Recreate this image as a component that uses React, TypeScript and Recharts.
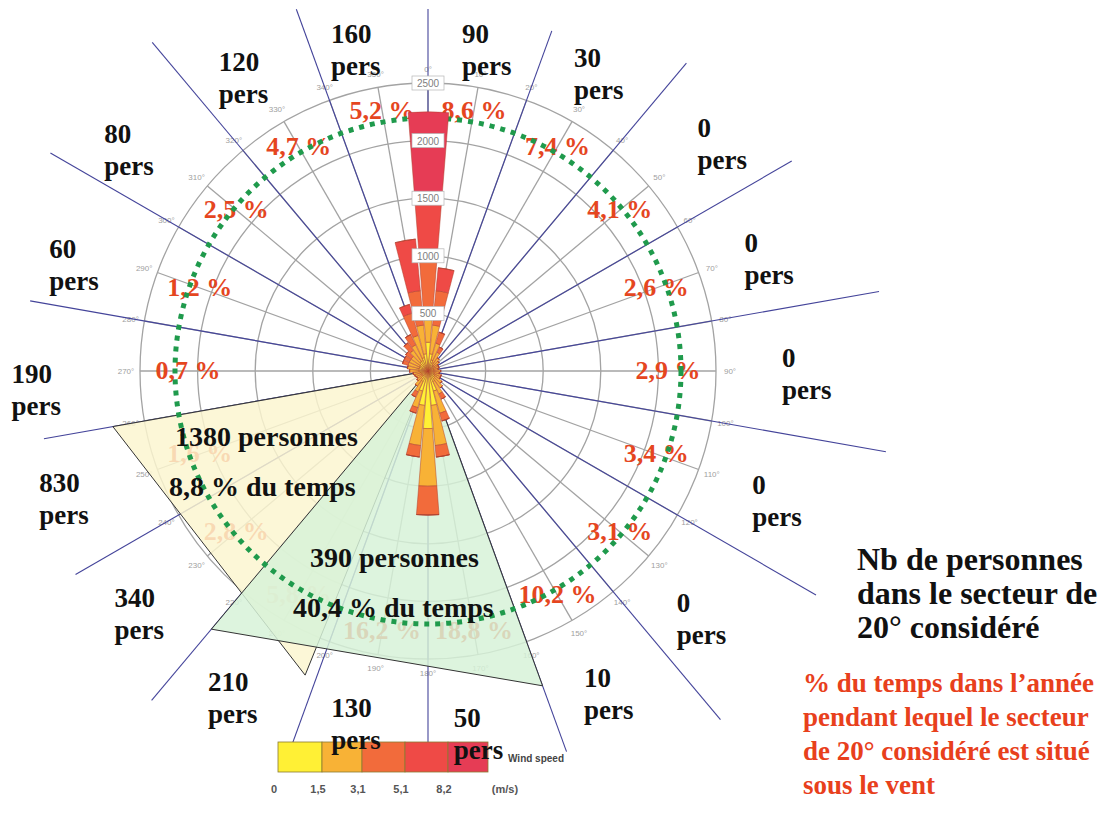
import React from 'react';
import { RadialBarChart, RadialBar, PolarGrid, PolarAngleAxis, PolarRadiusAxis, Customized } from 'recharts';

// wind rose bins, degrees clockwise from north
const directions = [0, 10, 20, 30, 40, 50, 60, 70, 80, 90, 100, 110, 120, 130, 140, 150, 160, 170,
  180, 190, 200, 210, 220, 230, 240, 250, 260, 270, 280, 290, 300, 310, 320, 330, 340, 350];

// counts per speed class
const speed0to15 = [250, 150, 100, 80, 60, 60, 50, 50, 50, 50, 50, 60, 60, 70, 80, 100, 180, 300,
  500, 300, 180, 100, 80, 60, 60, 60, 70, 80, 80, 80, 80, 80, 100, 100, 120, 150];
const speed15to31 = [250, 250, 150, 100, 80, 60, 50, 50, 40, 60, 50, 60, 60, 80, 100, 120, 200, 350,
  500, 350, 150, 100, 80, 60, 50, 60, 60, 80, 100, 100, 100, 100, 120, 150, 200, 250];
const speed31to51 = [450, 300, 100, 50, 0, 0, 0, 0, 0, 0, 0, 0, 0, 0, 0, 50, 70, 100,
  250, 100, 50, 50, 0, 0, 0, 0, 0, 0, 0, 50, 50, 60, 80, 100, 200, 300];
const speed51to82 = [550, 200, 0, 0, 0, 0, 0, 0, 0, 0, 0, 0, 0, 0, 0, 0, 0, 0,
  0, 0, 0, 0, 0, 0, 0, 0, 0, 0, 0, 0, 0, 0, 0, 0, 80, 450];
const speedAbove82 = [750, 0, 0, 0, 0, 0, 0, 0, 0, 0, 0, 0, 0, 0, 0, 0, 0, 0,
  0, 0, 0, 0, 0, 0, 0, 0, 0, 0, 0, 0, 0, 0, 0, 0, 0, 0];

const speedKeys = ['s1', 's2', 's3', 's4', 's5'];
const speedColors = ['#fff035', '#f8b236', '#f26b3b', '#ef4a46', '#e63c55'];
const speedStops = ['0', '1,5', '3,1', '5,1', '8,2'];

const radiusTicks = [500, 1000, 1500, 2000, 2500];

// 20 degree sectors (centre angles)
const sectorCenters = [10, 30, 50, 70, 90, 110, 130, 150, 170, 190, 210, 230, 250, 270, 290, 310, 330, 350];
const personnes = [90, 30, 0, 0, 0, 0, 0, 10, 50, 130, 210, 340, 830, 190, 60, 80, 120, 160];
const tempsPct = [8.6, 7.4, 4.1, 2.6, 2.9, 3.4, 3.1, 10.2, 18.8, 16.2, 5.8, 2.8, 1.6, 0.7, 1.2, 2.5, 4.7, 5.2];
const sectorBounds = [0, 20, 40, 60, 80, 100, 120, 140, 160, 180, 200, 220, 240, 260, 280, 300, 320, 340];

const roseData = directions.map((d, i) => ({
  dir: `${d}°`,
  s1: speed0to15[i],
  s2: speed15to31[i],
  s3: speed31to51[i],
  s4: speed51to82[i],
  s5: speedAbove82[i],
}));

// layout
const CX = 428;
const CY = 371;
const OUTER = 288;
const RMAX = 2500;
const persRadius = [326, 342, 372, 360, 380, 374, 371, 372, 368, 361, 381, 377, 385, 391, 368, 370, 345, 328];
const persShift = [0.6, 0.2, 2.6, 2, 0.6, 0.5, 2.2, 0.7, 1.9, 1.3, 0.6, -0.3, 0.4, -2.9, -3.4, -3.6, -2.1, -2.5];
const boundLength = [362, 362, 402, 420, 458, 465, 448, 455, 405, 380, 421, 430, 407, 390, 404, 436, 429, 385];
const legendX = [278, 322, 362, 405, 448, 488];

const serif = '"Liberation Serif", "Times New Roman", serif';
const sans = '"Liberation Sans", Arial, sans-serif';

const polar = (deg: number, r: number) => ({
  x: CX + r * Math.sin((deg * Math.PI) / 180),
  y: CY - r * Math.cos((deg * Math.PI) / 180),
});

const RadiusTick = (props: any) => {
  const { x, y, payload } = props;
  return (
    <g>
      <rect x={x - 16} y={y - 7} width={32} height={14} fill="#fff" stroke="#b5b5b5" strokeWidth={0.7} />
      <text x={x} y={y + 4} textAnchor="middle" fontSize={10} fill="#808080" fontFamily={sans}>{payload.value}</text>
    </g>
  );
};

const tri = (a1: number, r1: number, a2: number, r2: number) => {
  const p = polar(a1, r1);
  const q = polar(a2, r2);
  return `${CX},${CY} ${p.x},${p.y} ${q.x},${q.y}`;
};

const Annotations = () => (
  <g>
    {directions.map((d) => {
      const p = polar(d, 302);
      return (
        <text key={'deg' + d} x={p.x} y={p.y + 3} textAnchor="middle" fontSize={8} fill="#a0a0a0" fontFamily={sans}>{d}°</text>
      );
    })}
    {sectorCenters.map((a, i) => {
      const c = Math.cos((a * Math.PI) / 180);
      const p = polar(a, 240 + 25 * c * c);
      return (
        <text key={'pct' + a} x={p.x} y={p.y + 8} textAnchor="middle" fontSize={26} fontWeight="bold" fill="#e5461f" fontFamily={serif}>
          {String(tempsPct[i]).replace('.', ',')} %
        </text>
      );
    })}
    {sectorBounds.map((a, i) => {
      const p = polar(a, boundLength[i]);
      return <line key={'b' + a} x1={CX} y1={CY} x2={p.x} y2={p.y} stroke="#44449a" strokeWidth={1.1} />;
    })}
    <polygon points={tri(260, 320, 202, 328)} fill="#fbf5cf" fillOpacity={0.84} stroke="#333" strokeWidth={1} />
    <polygon points={tri(220, 337, 160, 335)} fill="#d6f2d8" fillOpacity={0.84} stroke="#333" strokeWidth={1} />
    <circle cx={CX} cy={CY} r={253} fill="none" stroke="#1f9a4c" strokeWidth={5} strokeDasharray="5 6" />
    {speedColors.map((c, i) => (
      <rect key={'leg' + i} x={legendX[i]} y={742} width={legendX[i + 1] - legendX[i]} height={30} fill={c} stroke="#8a7a30" strokeWidth={0.8} />
    ))}
    {speedStops.map((s, i) => (
      <text key={'stop' + s} x={legendX[i] - 4} y={793} textAnchor="middle" fontSize={11} fontWeight="bold" fill="#555" fontFamily={sans}>{s}</text>
    ))}
    <text x={505} y={793} textAnchor="middle" fontSize={11} fontWeight="bold" fill="#555" fontFamily={sans}>(m/s)</text>
    <text x={508} y={762} fontSize={10} fontWeight="bold" fill="#444" fontFamily={sans}>Wind speed</text>
    {sectorCenters.map((a, i) => {
      const p = polar(a + persShift[i], persRadius[i]);
      return (
        <text key={'pers' + a} x={p.x - 26} y={p.y - 8} fontSize={27} fontWeight="bold" fill="#111" fontFamily={serif}>
          <tspan x={p.x - 26}>{personnes[i]}</tspan>
          <tspan x={p.x - 26} dy={32}>pers</tspan>
        </text>
      );
    })}
    <g fontFamily={serif} fontWeight="bold" fontSize={28} fill="#111">
      <text x={175} y={446}>1380 personnes</text>
      <text x={169} y={496}>8,8 % du temps</text>
      <text x={310} y={567}>390 personnes</text>
      <text x={293} y={617}>40,4 % du temps</text>
    </g>
    <g fontFamily={serif} fontWeight="bold" fontSize={32} fill="#111">
      <text x={857} y={570}>Nb de personnes</text>
      <text x={857} y={604}>dans le secteur de</text>
      <text x={857} y={638}>20° considéré</text>
    </g>
    <g fontFamily={serif} fontWeight="bold" fontSize={27} fill="#e8401c">
      <text x={803} y={692}>% du temps dans l’année</text>
      <text x={803} y={726}>pendant lequel le secteur</text>
      <text x={803} y={760}>de 20° considéré est situé</text>
      <text x={803} y={794}>sous le vent</text>
    </g>
  </g>
);

export default function App() {
  return (
    <div style={{ position: 'absolute', left: 0, top: 0, width: 1107, height: 820, background: '#fff' }}>
      <RadialBarChart
        width={1107}
        height={820}
        data={roseData}
        cx={CX}
        cy={CY}
        innerRadius={0}
        outerRadius={OUTER}
        startAngle={85}
        endAngle={-275}
        layout="centric"
        barCategoryGap="4%"
        margin={{ top: 0, right: 0, bottom: 0, left: 0 }}
      >
        <PolarGrid
          gridType="circle"
          polarAngles={directions.map((d) => 90 - d)}
          polarRadius={radiusTicks.map((v) => (v / RMAX) * OUTER)}
          stroke="#a3a3a3"
          strokeWidth={1.3}
        />
        <PolarAngleAxis type="category" dataKey="dir" tick={false} tickLine={false} axisLine={false} />
        {speedKeys.map((k, i) => (
          <RadialBar
            key={k}
            dataKey={k}
            stackId="wind"
            fill={speedColors[i]}
            stroke="#b0402e"
            strokeWidth={0.5}
            isAnimationActive={false}
          />
        ))}
        <PolarRadiusAxis
          type="number"
          domain={[0, RMAX]}
          ticks={radiusTicks}
          angle={90}
          axisLine={false}
          tickLine={false}
          tick={<RadiusTick />}
        />
        <Customized component={Annotations} />
      </RadialBarChart>
    </div>
  );
}
